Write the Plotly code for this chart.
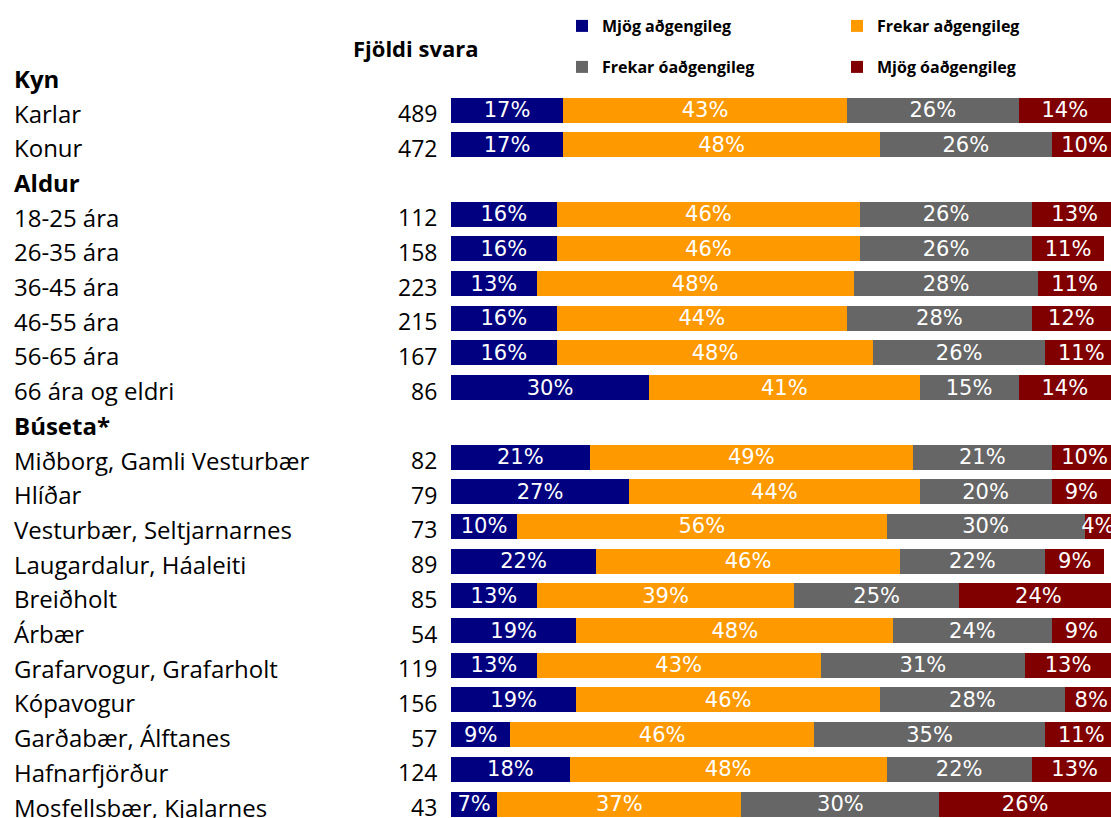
import plotly.graph_objects as go

# ---- data ----
kyn = ["Karlar", "Konur"]
aldur = ["18-25 ára", "26-35 ára", "36-45 ára", "46-55 ára", "56-65 ára", "66 ára og eldri"]
buseta = ["Miðborg, Gamli Vesturbær", "Hlíðar", "Vesturbær, Seltjarnarnes", "Laugardalur, Háaleiti",
          "Breiðholt", "Árbær", "Grafarvogur, Grafarholt", "Kópavogur", "Garðabær, Álftanes",
          "Hafnarfjörður", "Mosfellsbær, Kjalarnes"]
group_names = ["Kyn", "Aldur", "Búseta*"]

fjoldi_svara = [489, 472, 112, 158, 223, 215, 167, 86, 82, 79, 73, 89, 85, 54, 119, 156, 57, 124, 43]

mjog_adgengileg = [17, 17, 16, 16, 13, 16, 16, 30, 21, 27, 10, 22, 13, 19, 13, 19, 9, 18, 7]
frekar_adgengileg = [43, 48, 46, 46, 48, 44, 48, 41, 49, 44, 56, 46, 39, 48, 43, 46, 46, 48, 37]
frekar_oadgengileg = [26, 26, 26, 26, 28, 28, 26, 15, 21, 20, 30, 22, 25, 24, 31, 28, 35, 22, 30]
mjog_oadgengileg = [14, 10, 13, 11, 11, 12, 11, 14, 10, 9, 4, 9, 24, 9, 13, 8, 11, 13, 26]

series_names = ["Mjög aðgengileg", "Frekar aðgengileg", "Frekar óaðgengileg", "Mjög óaðgengileg"]
series_colors = ["#000080", "#FF9900", "#666666", "#800000"]

# ---- build row layout ----
rows = []  # (label, is_header)
for name, members in zip(group_names, [kyn, aldur, buseta]):
    rows.append((name, True))
    for m in members:
        rows.append((m, False))
bar_y = [i for i, (lab, hdr) in enumerate(rows) if not hdr]

ROW_PX = 34.7
W, H = 1111, 818
ML, MR, MT, MB = 451, 0, 58, 0
PW, PH = W - ML - MR, H - MT - MB
Y_TOP = -0.5
Y_BOT = Y_TOP + PH / ROW_PX


def px_x(page_x):
    return (page_x - ML) / PW


def px_y(page_y):
    return (H - MB - page_y) / PH


fig = go.Figure()
all_series = [mjog_adgengileg, frekar_adgengileg, frekar_oadgengileg, mjog_oadgengileg]
legend_ids = ["legend", "legend2", "legend3", "legend4"]
for i, (nm, col, vals) in enumerate(zip(series_names, series_colors, all_series)):
    fig.add_trace(go.Bar(
        y=bar_y, x=vals, orientation="h", name=nm,
        marker=dict(color=col, line=dict(width=0)),
        text=[f"{v}%" for v in vals], textposition="inside", insidetextanchor="middle",
        textfont=dict(family="DejaVu Sans", size=21, color="white"),
        legend=legend_ids[i],
        hoverinfo="skip",
    ))

LABEL_FONT = "Open Sans"
annotations = []
for i, (lab, hdr) in enumerate(rows):
    annotations.append(dict(
        x=px_x(12), xref="paper", y=i, yref="y", text=lab, showarrow=False,
        xanchor="left", yanchor="middle", yshift=-3,
        font=dict(family=LABEL_FONT, size=24, color="black", weight="bold" if hdr else "normal"),
    ))
for yv, n in zip(bar_y, fjoldi_svara):
    annotations.append(dict(
        x=px_x(439), xref="paper", y=yv, yref="y", text=str(n), showarrow=False,
        xanchor="right", yanchor="middle", yshift=-3,
        font=dict(family=LABEL_FONT, size=23, color="black"),
    ))
annotations.append(dict(
    x=px_x(416), xref="paper", y=px_y(47.5), yref="paper", text="Fjöldi svara",
    showarrow=False, xanchor="center", yanchor="middle",
    font=dict(family=LABEL_FONT, size=22, color="black", weight="bold"),
))

leg_common = dict(orientation="h", xanchor="left", yanchor="middle",
                  bgcolor="rgba(0,0,0,0)", borderwidth=0,
                  font=dict(family=LABEL_FONT, size=16, color="black", weight="bold"))
leg_pos = [(562, 26), (837, 26), (562, 67), (837, 67)]

layout_legends = {}
for lid, (lx, ly) in zip(legend_ids, leg_pos):
    layout_legends[lid] = dict(x=px_x(lx), y=px_y(ly), **leg_common)

fig.update_layout(
    width=W, height=H, margin=dict(l=ML, r=MR, t=MT, b=MB, pad=0),
    barmode="stack", bargap=0.28,
    plot_bgcolor="white", paper_bgcolor="white",
    xaxis=dict(range=[0, 100], visible=False, fixedrange=True),
    yaxis=dict(range=[Y_BOT, Y_TOP], visible=False, fixedrange=True),
    uniformtext=dict(minsize=21, mode="show"),
    annotations=annotations,
    showlegend=True,
    hovermode=False,
    **layout_legends,
)

fig.write_html(
    "out.html",
    config={"displayModeBar": False},
    post_script="document.body.style.margin='0';document.body.style.overflow='hidden';",
)
